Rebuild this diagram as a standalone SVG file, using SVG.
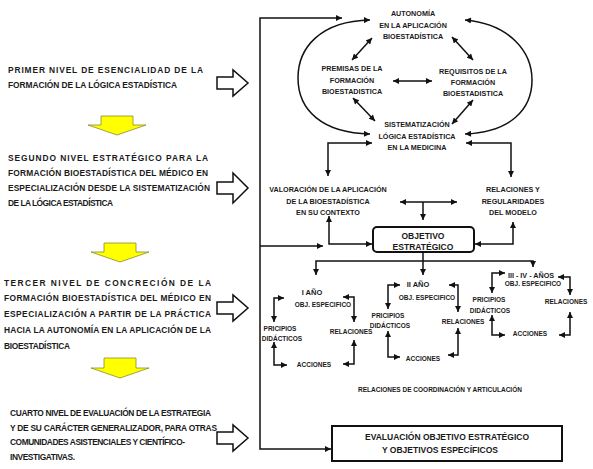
<svg xmlns="http://www.w3.org/2000/svg" width="593" height="469" viewBox="0 0 593 469">
<style>
text{font-family:"Liberation Sans",Arial,sans-serif;font-weight:bold;fill:#1a1a1a}
.l{font-size:8.4px}
.c{font-size:7.2px;text-anchor:middle}
.s{font-size:6.5px;text-anchor:middle}
.b{font-size:8.5px;text-anchor:middle}
.cn path{fill:none;stroke:#111;stroke-width:1.5}
.d{marker-start:url(#a);marker-end:url(#a)}
.e{marker-end:url(#a)}
.ho{fill:#fff;stroke:#111;stroke-width:1.5;stroke-linejoin:miter}
.ye{fill:#ffff00;stroke:#8a8a30;stroke-width:0.8}
</style>
<defs>
<marker id="a" viewBox="0 0 10 10" refX="10" refY="5" markerWidth="7" markerHeight="6" markerUnits="userSpaceOnUse" orient="auto-start-reverse">
<path d="M0,0 L10,5 L0,10 z" fill="#111"/>
</marker>
</defs>
<rect width="593" height="469" fill="#fff"/>

<g id="nivel1">
<text class="l" x="8" y="73" textLength="195">PRIMER NIVEL DE ESENCIALIDAD DE LA</text>
<text class="l" x="8" y="88" textLength="169">FORMACIÓN DE LA LÓGICA ESTADÍSTICA</text>
</g>
<g id="nivel2">
<text class="l" x="8" y="161" textLength="200">SEGUNDO NIVEL ESTRATÉGICO PARA LA</text>
<text class="l" x="8" y="176" textLength="200">FORMACIÓN BIOESTADÍSTICA DEL MÉDICO EN</text>
<text class="l" x="8" y="191" textLength="202">ESPECIALIZACIÓN DESDE LA SISTEMATIZACIÓN</text>
<text class="l" x="8" y="206" textLength="105">DE LA LÓGICA ESTADÍSTICA</text>
</g>
<g id="nivel3">
<text class="l" x="4" y="286" textLength="207">TERCER NIVEL DE CONCRECIÓN DE LA</text>
<text class="l" x="4" y="301" textLength="207">FORMACIÓN BIOESTADÍSTICA DEL MÉDICO EN</text>
<text class="l" x="4" y="317" textLength="207">ESPECIALIZACIÓN A PARTIR DE LA PRÁCTICA</text>
<text class="l" x="4" y="333" textLength="207">HACIA LA AUTONOMÍA EN LA APLICACIÓN DE LA</text>
<text class="l" x="4" y="349" textLength="66">BIOESTADÍSTICA</text>
</g>
<g id="nivel4">
<text class="l" x="10" y="416" textLength="201">CUARTO NIVEL DE EVALUACIÓN DE LA ESTRATEGIA</text>
<text class="l" x="10" y="431" textLength="207">Y DE SU CARÁCTER GENERALIZADOR, PARA OTRAS</text>
<text class="l" x="10" y="445" textLength="175">COMUNIDADES ASISTENCIALES Y CIENTÍFICO-</text>
<text class="l" x="10" y="460" textLength="65">INVESTIGATIVAS.</text>
</g>

<g id="flechas-huecas">
<polygon class="ho" points="217,77 233,77 233,70 248,83 233,96 233,89 217,89"/>
<polygon class="ho" points="217,182 233,182 233,173 248,188 233,203 233,194 217,194"/>
<polygon class="ho" points="217,302 233,302 233,295 248,308 233,321 233,314 217,314"/>
<polygon class="ho" points="217,432 233,432 233,425 248,438 233,451 233,444 217,444"/>
</g>
<g id="flechas-amarillas">
<polygon class="ye" points="101,116 133,116 133,125 146,125 117,135 88,125 101,125"/>
<polygon class="ye" points="104,243 136,243 136,252 149,252 120,262 91,252 104,252"/>
<polygon class="ye" points="104,358 136,358 136,368 149,368 120,378 91,368 104,368"/>
</g>

<g id="autonomia">
<text class="c" x="413" y="15.5">AUTONOMÍA</text>
<text class="c" x="413" y="27.5">EN LA APLICACIÓN</text>
<text class="c" x="413" y="38.5">BIOESTADÍSTICA</text>
</g>
<g id="premisas">
<text class="c" x="352" y="71">PREMISAS DE LA</text>
<text class="c" x="352" y="82.5">FORMACIÓN</text>
<text class="c" x="352" y="93.5">BIOESTADISTICA</text>
</g>
<g id="requisitos">
<text class="c" x="473" y="74">REQUISITOS DE LA</text>
<text class="c" x="473" y="85">FORMACIÓN</text>
<text class="c" x="473" y="96">BIOESTADISTICA</text>
</g>
<g id="sistematizacion">
<text class="c" x="417" y="127">SISTEMATIZACIÓN</text>
<text class="c" x="417" y="138.5">LÓGICA ESTADÍSTICA</text>
<text class="c" x="417" y="149.5">EN LA MEDICINA</text>
</g>
<g id="valoracion">
<text class="c" x="328" y="192">VALORACIÓN DE LA APLICACIÓN</text>
<text class="c" x="328" y="204">DE LA BIOESTADÍSTICA</text>
<text class="c" x="328" y="215">EN SU CONTEXTO</text>
</g>
<g id="relaciones-modelo">
<text class="c" x="513" y="192">RELACIONES Y</text>
<text class="c" x="513" y="204">REGULARIDADES</text>
<text class="c" x="513" y="215">DEL MODELO</text>
</g>
<g id="objetivo">
<rect x="373" y="227" width="101" height="25" rx="4" fill="#fff" stroke="#111" stroke-width="2"/>
<text class="b" x="423" y="238.5">OBJETIVO</text>
<text class="b" x="423" y="249.5">ESTRATÉGICO</text>
</g>

<g id="anio1">
<text class="b" x="312" y="295" style="font-size:7.5px">I AÑO</text>
<text class="s" x="323" y="306.5">OBJ. ESPECIFICO</text>
<text class="s" x="280" y="330.5">PRICIPIOS</text>
<text class="s" x="282" y="341">DIDÁCTICOS</text>
<text class="s" x="351" y="333.5">RELACIONES</text>
<text class="s" x="314" y="366.5">ACCIONES</text>
</g>
<g id="anio2">
<text class="b" x="418" y="287" style="font-size:7.5px">II AÑO</text>
<text class="s" x="427" y="299.5">OBJ. ESPECIFICO</text>
<text class="s" x="388" y="317.5">PRICIPIOS</text>
<text class="s" x="390" y="328">DIDÁCTICOS</text>
<text class="s" x="463" y="323.5">RELACIONES</text>
<text class="s" x="423" y="360.5">ACCIONES</text>
</g>
<g id="anio3">
<text class="c" x="531" y="277.5">III - IV - AÑOS</text>
<text class="s" x="533" y="286">OBJ. ESPECIFICO</text>
<text class="s" x="489" y="301.5">PRICIPIOS</text>
<text class="s" x="490" y="312.5">DIDÁCTICOS</text>
<text class="s" x="566" y="303.5">RELACIONES</text>
<text class="s" x="530" y="335.5">ACCIONES</text>
</g>
<g id="coordinacion">
<text class="s" x="440" y="392">RELACIONES DE COORDINACIÓN Y ARTICULACIÓN</text>
</g>
<g id="evaluacion">
<rect x="332" y="426" width="230" height="35" fill="#fff" stroke="#111" stroke-width="2"/>
<text class="b" x="447" y="440">EVALUACIÓN OBJETIVO ESTRATÉGICO</text>
<text class="b" x="440" y="453">Y OBJETIVOS ESPECÍFICOS</text>
</g>

<g id="conectores" class="cn">
<path class="d" d="M342,18 H260 V449 H331"/>
<path class="e" d="M260,246 H323"/>
<path class="d" d="M370,20 C320,21 298,48 298,78 C298,110 322,133 370,134"/>
<path class="d" d="M465,20 C510,24 532,52 532,80 C532,110 510,132 465,134"/>
<path class="d" d="M372,38 L352,60"/>
<path class="d" d="M452,37 L473,60"/>
<path class="d" d="M393,81 L432,81"/>
<path class="d" d="M353,98 L375,121"/>
<path class="d" d="M473,100 L452,124"/>
<path class="d" d="M372,143 H328 V176"/>
<path class="d" d="M466,143 H511 V177"/>
<path class="d" d="M400,202 H457"/>
<path class="e" d="M423,202 V220"/>
<path class="d" d="M329,216 V244 H372"/>
<path class="d" d="M475,244 H513 V222"/>
<path class="e" d="M423,252 V275"/>
<path class="d" d="M316,275 V261 H533 V267"/>
<path class="d" d="M284,298 H274 V322"/>
<path class="d" d="M274,342 V365 H287"/>
<path class="d" d="M343,297 H354 V322"/>
<path class="d" d="M354,340 V364 H343"/>
<path class="d" d="M400,285 H388 V309"/>
<path class="d" d="M388,331 V357 H400"/>
<path class="d" d="M449,285 H458 V312"/>
<path class="d" d="M458,328 V355 H448"/>
<path class="d" d="M505,273 H492 V293"/>
<path class="d" d="M492,315 V335 H505"/>
<path class="d" d="M558,277 H570 V295"/>
<path class="d" d="M570,312 V335 H559"/>
</g>
</svg>
